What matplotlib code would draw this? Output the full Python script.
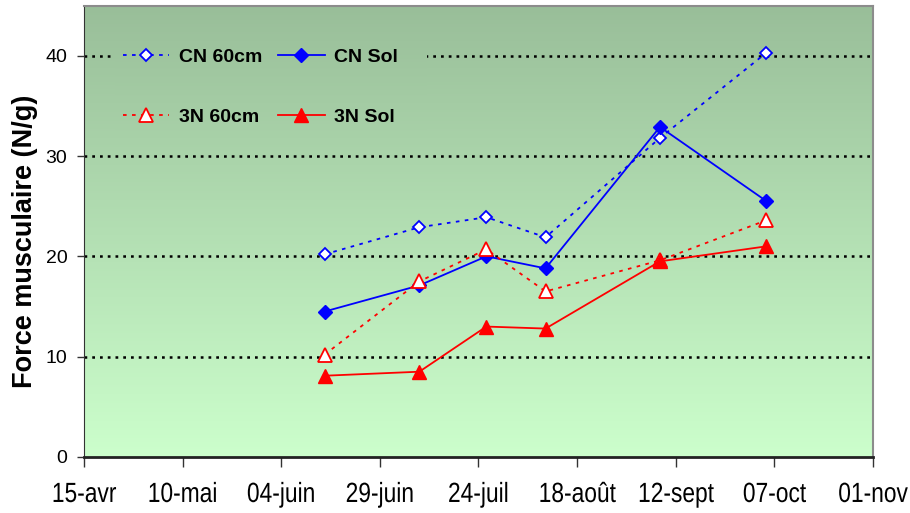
import datetime as dt
import numpy as np
import matplotlib
matplotlib.use("Agg")
import matplotlib.pyplot as plt
import matplotlib.dates as mdates
from matplotlib.patches import Rectangle
from matplotlib.patheffects import AbstractPathEffect
from matplotlib.transforms import Affine2D, IdentityTransform

# dates de mesure (année non bissextile)
dates = [dt.date(2006, 6, 15), dt.date(2006, 7, 9), dt.date(2006, 7, 26),
         dt.date(2006, 8, 10), dt.date(2006, 9, 8), dt.date(2006, 10, 5)]

cn_60cm = [20.2, 22.9, 23.9, 21.9, 31.8, 40.3]
cn_sol = [14.5, 17.1, 20.0, 18.8, 32.9, 25.5]
n3_60cm = [10.2, 17.5, 20.7, 16.5, 19.6, 23.6]
n3_sol = [8.1, 8.5, 13.0, 12.8, 19.5, 21.0]

tick_dates = [dt.date(2006, 4, 15), dt.date(2006, 5, 10), dt.date(2006, 6, 4),
              dt.date(2006, 6, 29), dt.date(2006, 7, 24), dt.date(2006, 8, 18),
              dt.date(2006, 9, 12), dt.date(2006, 10, 7), dt.date(2006, 11, 1)]
tick_labels = ['15-avr', '10-mai', '04-juin', '29-juin', '24-juil',
               '18-août', '12-sept', '07-oct', '01-nov']
y_ticks = [0, 10, 20, 30, 40]


class Squeeze(AbstractPathEffect):
    """Resserre horizontalement le texte autour de son centre."""

    def __init__(self, sx):
        super().__init__()
        self.sx = sx

    def draw_path(self, renderer, gc, tpath, affine, rgbFace=None):
        ext = tpath.get_extents()
        cx = (ext.x0 + ext.x1) / 2
        squeeze = Affine2D().translate(-cx, 0).scale(self.sx, 1).translate(cx, 0)
        renderer.draw_path(gc, tpath, squeeze + affine, rgbFace)


plt.rcParams['font.family'] = ['Liberation Sans', 'DejaVu Sans']

fig = plt.figure(figsize=(9.1, 5.13), dpi=100)
ax = fig.add_axes([0.0923, 0.1092, 0.8670, 0.8800])

# fond dégradé vert
top = np.array([0.600, 0.745, 0.600])
bottom = np.array([0.800, 1.000, 0.800])
t = np.linspace(0, 1, 256)[:, None]
grad = (top * (1 - t) + bottom * t)[:, None, :]
ax.imshow(grad, extent=[0, 1, 0, 1], transform=ax.transAxes,
          aspect='auto', zorder=0, interpolation='bilinear')

ax.set_ylim(0, 45)
ax.set_xlim(mdates.date2num(tick_dates[0]), mdates.date2num(tick_dates[-1]))

for yv in y_ticks[1:]:
    ax.axhline(yv, color='black', lw=1.8, dashes=(1.1, 2.0),
               dash_capstyle='butt', zorder=1)

x = mdates.date2num(dates)
l1, = ax.plot(x, cn_60cm, color='#0000ff', lw=1.3, dashes=(2, 3),
              marker='D', ms=6.4, mfc='white', mec='#0000ff', mew=1.3,
              label='CN 60cm', zorder=3)
l2, = ax.plot(x, cn_sol, color='#0000ff', lw=1.3,
              marker='D', ms=7.2, mfc='#0000ff', mec='#0000ff',
              label='CN Sol', zorder=3)
l3, = ax.plot(x, n3_60cm, color='#ff0000', lw=1.3, dashes=(2, 3),
              marker='^', ms=9.5, mfc='white', mec='#ff0000', mew=1.3,
              label='3N 60cm', zorder=4)
l4, = ax.plot(x, n3_sol, color='#ff0000', lw=1.3,
              marker='^', ms=10.5, mfc='#ff0000', mec='#ff0000',
              label='3N Sol', zorder=4)

ax.set_xticks(mdates.date2num(tick_dates))
ax.set_xticklabels(tick_labels, fontsize=20)
for lab in ax.get_xticklabels():
    lab.set_path_effects([Squeeze(0.82)])
ax.set_yticks(y_ticks)
ax.set_yticklabels([str(v) for v in y_ticks], fontsize=14)
ax.tick_params(axis='x', direction='out', length=7, width=1, pad=11, color='#333333')
ax.tick_params(axis='y', direction='out', length=5, width=1, pad=7, color='#333333')
ax.set_ylabel('Force musculaire (N/g)', fontsize=19.5, fontweight='bold')
ax.yaxis.set_label_coords(-0.058, 0.478)

for s in ['top', 'right']:
    ax.spines[s].set_color('#8c8c8c')
    ax.spines[s].set_linewidth(1.5)
ax.spines['left'].set_color('#333333')
ax.spines['bottom'].set_color('#222222')
ax.spines['bottom'].set_linewidth(2)

leg = ax.legend([l1, l3, l2, l4], ['CN 60cm', '3N 60cm', 'CN Sol', '3N Sol'],
                ncol=2, loc='upper left', bbox_to_anchor=(0.039, 0.923),
                borderaxespad=0, borderpad=0.4, frameon=False,
                prop={'weight': 'bold', 'size': 14},
                handlelength=2.4, handletextpad=0.5, columnspacing=0.8,
                labelspacing=2.2)
leg.set_zorder(5)

# le cadre de la légende masque le quadrillage
fig.canvas.draw()
bb = leg.get_window_extent()
cover = ax.imshow(grad, extent=[0, 1, 0, 1], transform=ax.transAxes,
                  aspect='auto', zorder=2, interpolation='bilinear')
clip = Rectangle((bb.x0, bb.y0), bb.width + 20, bb.height,
                 transform=IdentityTransform())
cover.set_clip_path(clip)

fig.savefig('out.png', dpi=100)
